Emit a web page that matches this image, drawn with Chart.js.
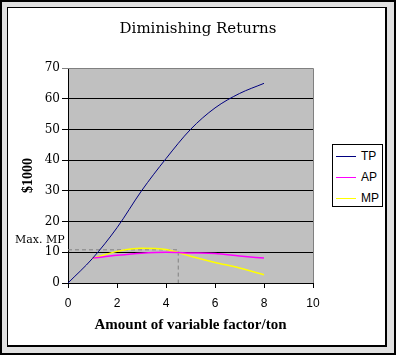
<!DOCTYPE html>
<html>
<head>
<meta charset="utf-8">
<script src="https://cdn.jsdelivr.net/npm/chart.js@4/dist/chart.umd.min.js"></script>
<style>
  html, body { margin: 0; padding: 0; }
  body { width: 396px; height: 355px; position: relative; overflow: hidden; }
  #outer { position: absolute; left: 0; top: 0; width: 396px; height: 355px; box-sizing: border-box;
           background: #e0e0e0; border: 2px solid #000; }
  #inner { position: absolute; left: 7px; top: 7px; width: 380px; height: 340px; box-sizing: border-box;
           background: #fff; border-left: 1px solid #000; border-top: 1px solid #000;
           border-right: 2px solid #000; border-bottom: 2px solid #000; }
  #chart { position: absolute; left: 0; top: 0; }
  #maxmp { position: absolute; left: 15px; top: 233px; font: 11px "DejaVu Serif", serif; color: #000; }
  #legend { position: absolute; left: 332px; top: 144px; width: 51px; height: 63px; box-sizing: border-box;
            border: 1px solid #000; background: #fff; font: 12px "Liberation Sans", Arial, sans-serif; }
  .li { position: absolute; left: 3px; height: 14px; }
  .li span.ln { position: absolute; left: 0; top: 6px; width: 20px; height: 1px; }
  .li span.tx { position: absolute; left: 25px; top: -1px; }
</style>
</head>
<body>
<div id="outer"></div>
<div id="inner"></div>
<canvas id="chart" width="396" height="355"></canvas>
<div id="maxmp">Max. MP</div>
<div id="legend">
  <div class="li" style="top:5px"><span class="ln" style="background:#000080"></span><span class="tx">TP</span></div>
  <div class="li" style="top:26px"><span class="ln" style="background:#ff00ff"></span><span class="tx">AP</span></div>
  <div class="li" style="top:47px"><span class="ln" style="background:#ffff00"></span><span class="tx">MP</span></div>
</div>
<script>
// ---- data ----
const xTP = [0, 1, 2, 3, 4, 5, 6, 7, 8];
const tpValues = [0, 8, 18, 30, 40.5, 50, 57, 61.7, 65];
const xAPMP = [1, 2, 3, 4, 5, 6, 7, 8];
const apValues = [8.1, 9.0, 9.7, 10.0, 9.8, 9.6, 8.8, 8.1];
const mpValues = [8.0, 10.3, 11.3, 10.9, 8.7, 6.7, 4.9, 2.7];
const maxMPValue = 10.8;
const maxMPx = 4.5;
const xTicks = [0, 2, 4, 6, 8, 10];
const yTicks = [0, 10, 20, 30, 40, 50, 60, 70];

const toPts = (xs, ys) => xs.map((x, i) => ({ x: x, y: ys[i] }));

const plotBg = {
  id: 'plotBg',
  beforeDraw(chart) {
    const { ctx, chartArea: a } = chart;
    ctx.save();
    ctx.fillStyle = '#c0c0c0';
    ctx.fillRect(a.left, a.top, a.right - a.left, a.bottom - a.top);
    ctx.restore();
  },
  afterDraw(chart) {
    const { ctx, chartArea: a } = chart;
    ctx.save();
    ctx.strokeStyle = '#808080';
    ctx.lineWidth = 1;
    ctx.beginPath();
    ctx.moveTo(a.left, Math.round(a.top) + 0.5);
    ctx.lineTo(Math.round(a.right) + 0.5, Math.round(a.top) + 0.5);
    ctx.lineTo(Math.round(a.right) + 0.5, a.bottom);
    ctx.stroke();
    ctx.restore();
  }
};

new Chart(document.getElementById('chart'), {
  type: 'line',
  data: {
    datasets: [
      { label: 'TP', data: toPts(xTP, tpValues), borderColor: '#000080', borderWidth: 1,
        pointRadius: 0, cubicInterpolationMode: 'monotone', fill: false },
      { label: 'AP', data: toPts(xAPMP, apValues), borderColor: '#ff00ff', borderWidth: 1.5,
        pointRadius: 0, cubicInterpolationMode: 'monotone', fill: false },
      { label: 'MP', data: toPts(xAPMP, mpValues), borderColor: '#ffff00', borderWidth: 1.5,
        pointRadius: 0, cubicInterpolationMode: 'monotone', fill: false },
      { label: 'Max. MP', data: [{ x: 0, y: maxMPValue }, { x: maxMPx, y: maxMPValue }, { x: maxMPx, y: 0 }],
        borderColor: '#808080', borderWidth: 1, borderDash: [4, 3], pointRadius: 0, tension: 0, fill: false }
    ]
  },
  options: {
    responsive: false,
    animation: false,
    devicePixelRatio: 1,
    layout: { padding: 0 },
    plugins: {
      legend: { display: false },
      tooltip: { enabled: false },
      title: {
        display: true, text: 'Diminishing Returns', color: '#000',
        font: { family: '"DejaVu Serif", serif', size: 15, weight: 'normal', lineHeight: 1.2 },
        padding: { top: 20, bottom: 30 }
      }
    },
    scales: {
      x: {
        type: 'linear', min: 0, max: 10,
        afterBuildTicks(s) { s.ticks = xTicks.map(v => ({ value: v })); },
        afterFit(s) { s.height = 72; },
        grid: { drawOnChartArea: false, drawTicks: true, tickLength: 5, color: '#000' },
        border: { display: true, color: '#000', width: 1 },
        ticks: { color: '#000', padding: 8, maxRotation: 0,
                 font: { family: '"Liberation Sans Narrow", "Liberation Sans", sans-serif', size: 12 } },
        title: { display: true, text: 'Amount of variable factor/ton', color: '#000',
                 font: { family: '"Liberation Serif", serif', size: 15, weight: 'bold', lineHeight: 1.2 },
                 padding: { top: 0, bottom: 21 } }
      },
      y: {
        type: 'linear', min: 0, max: 70,
        afterBuildTicks(s) { s.ticks = yTicks.map(v => ({ value: v })); },
        afterFit(s) { s.width = 68; },
        grid: { drawOnChartArea: true, drawTicks: true, tickLength: 6,
                color: (c) => (c.tick && c.tick.value === 70) ? '#808080' : '#000' },
        border: { display: true, color: '#000', width: 1 },
        ticks: { color: '#000', padding: 2,
                 font: { family: '"DejaVu Serif", serif', size: 12 } },
        title: { display: true, text: '$1000', color: '#000',
                 font: { family: '"Liberation Serif", serif', size: 14, weight: 'bold', lineHeight: 1.2 },
                 padding: { top: 20, bottom: 0 } }
      },
      y2: {
        type: 'linear', position: 'right', display: true,
        afterFit(s) { s.width = 83; },
        grid: { display: false, drawTicks: false },
        border: { display: false },
        ticks: { display: false }
      }
    }
  },
  plugins: [plotBg]
});
</script>
</body>
</html>
